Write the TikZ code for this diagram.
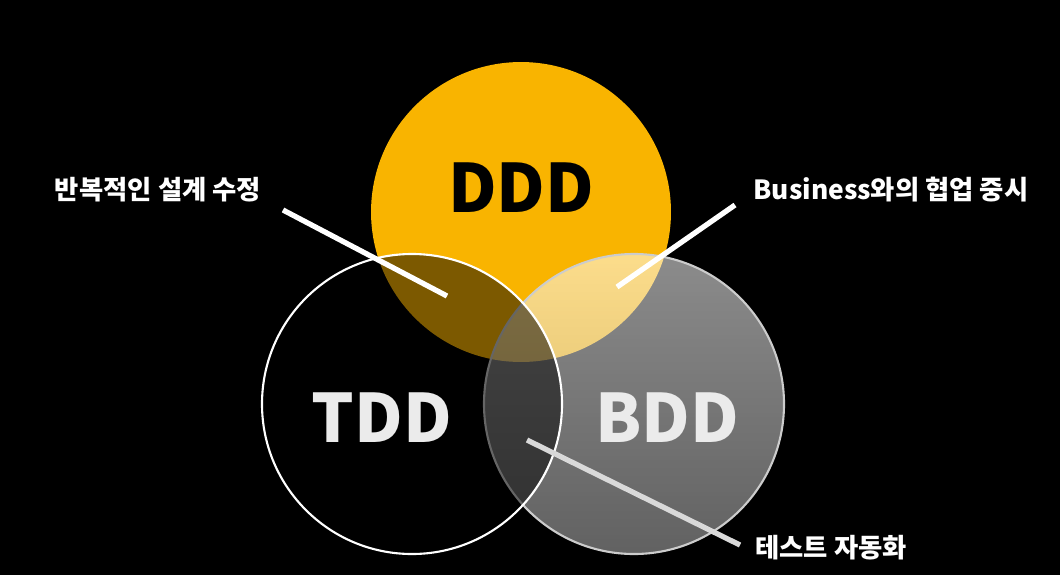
\documentclass[tikz,border=0pt]{standalone}
\usepackage{fontspec}
\setmainfont{Noto Sans CJK KR}
\usetikzlibrary{positioning}
\begin{document}
\begin{tikzpicture}[x=0.02cm, y=-0.02cm,
        ring/.style={circle, minimum size=6cm, inner sep=0pt},
        big/.style={font=\fontsize{38}{40}\selectfont\bfseries},
        tag/.style={text=white, font=\fontsize{15}{18}\selectfont\bfseries},
        pointer/.style={line width=3pt, white}
    ]
        \fill[black] (0,0) rectangle (1060,575);

        % DDD circle
        \node[ring, fill={rgb,255:red,249;green,180;blue,0}] (ddd) at (521,212) {};
        % BDD circle
        \shade[top color=white, bottom color=white!70!black, fill opacity=0.55]
            (634,404) circle[radius=150];
        \draw[white!80!black, line width=1.2pt] (634,404) circle[radius=150];
        % TDD circle
        \fill[black, fill opacity=0.5] (412,404) circle[radius=150];
        \draw[white, line width=1.2pt] (412,404) circle[radius=150];
        \node[ring] (tdd) at (412,404) {};
        \node[ring] (bdd) at (634,404) {};

        \node[big, text=black] (dddtxt) at (521,188) {DDD};
        \node[big, text=white!92!black] (tddtxt) at (382,418) {TDD};
        \node[big, text=white!92!black] (bddtxt) at (667,418) {BDD};

        % Labels
        \node[tag] (iter) at (158,190) {반복적인 설계 수정};
        \node[tag] (biz) at (891,190) {Business와의 협업 중시};
        \node[tag] (auto) at (831,548) {테스트 자동화};

        \coordinate (p1) at (283,210);
        \coordinate (q1) at (447,296);
        \coordinate (p2) at (735,205);
        \coordinate (q2) at (617,287);
        \coordinate (p3) at (740,545);
        \coordinate (q3) at (527,440);
        \draw[pointer] (p1) -- (q1);
        \draw[pointer] (p2) -- (q2);
        \draw[pointer, white!85!black] (p3) -- (q3);
    \end{tikzpicture}
\end{document}
